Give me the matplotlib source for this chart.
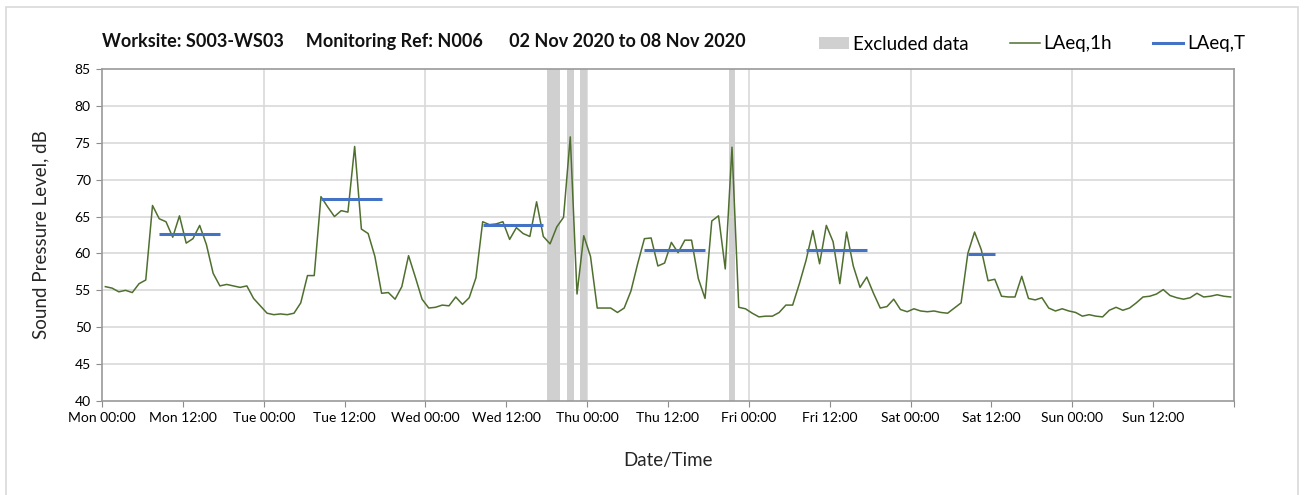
import matplotlib.pyplot as plt
import numpy as np
from matplotlib.patches import Patch, Rectangle
from matplotlib.lines import Line2D

# hourly LAeq,1h values, Mon 00:00 to Sun 23:00
laeq_1h = [
    55.5, 55.3, 54.8, 55.0, 54.7, 55.9, 56.4, 66.5, 64.7, 64.3, 62.2, 65.1,
    61.4, 62.0, 63.8, 61.2, 57.3, 55.6, 55.8, 55.6, 55.4, 55.6, 53.9, 52.9,
    51.9, 51.7, 51.8, 51.7, 51.9, 53.3, 57.0, 57.0, 67.7, 66.3, 65.0, 65.8,
    65.6, 74.5, 63.3, 62.7, 59.6, 54.6, 54.7, 53.8, 55.5, 59.7, 56.8, 53.8,
    52.6, 52.7, 53.0, 52.9, 54.1, 53.1, 54.0, 56.7, 64.3, 63.9, 64.0, 64.3,
    61.9, 63.5, 62.7, 62.3, 67.0, 62.3, 61.3, 63.6, 64.9, 75.8, 54.5, 62.4,
    59.6, 52.6, 52.6, 52.6, 52.0, 52.6, 54.9, 58.6, 62.0, 62.1, 58.3, 58.7,
    61.5, 60.1, 61.8, 61.8, 56.6, 53.9, 64.4, 65.1, 57.9, 74.4, 52.7, 52.5,
    51.9, 51.4, 51.5, 51.5, 52.0, 53.0, 53.0, 55.9, 59.1, 63.1, 58.6, 63.8,
    61.6, 55.9, 62.9, 58.3, 55.4, 56.8, 54.6, 52.6, 52.8, 53.8, 52.4, 52.1,
    52.5, 52.2, 52.1, 52.2, 52.0, 51.9, 52.6, 53.3, 60.0, 62.9, 60.5, 56.3,
    56.5, 54.2, 54.1, 54.1, 56.9, 53.9, 53.7, 54.0, 52.6, 52.2, 52.5, 52.2,
    52.0, 51.5, 51.7, 51.5, 51.4, 52.3, 52.7, 52.3, 52.6, 53.3, 54.1, 54.2,
    54.5, 55.1, 54.3, 54.0, 53.8, 54.0, 54.6, 54.1, 54.2, 54.4, 54.2, 54.1,
]

# LAeq,T periods (start hour, end hour, level)
period_start = [8, 32, 56, 80, 104, 128]
period_end = [18, 42, 66, 90, 114, 133]
period_level = [62.6, 67.4, 63.8, 60.4, 60.5, 59.9]

# excluded data hours (start, end)
excl_start = [66, 69, 71, 93]
excl_end = [68, 70, 72, 94]

tick_labels = ["Mon 00:00", "Mon 12:00", "Tue 00:00", "Tue 12:00", "Wed 00:00",
               "Wed 12:00", "Thu 00:00", "Thu 12:00", "Fri 00:00", "Fri 12:00",
               "Sat 00:00", "Sat 12:00", "Sun 00:00", "Sun 12:00", ""]

plt.rcParams['font.family'] = ['Lato', 'DejaVu Sans']

fig = plt.figure(figsize=(13.09, 4.95), dpi=100)
ax = fig.add_axes([0.0779, 0.1899, 0.8648, 0.6707])

# outer frame of the picture
fig.patches.append(Rectangle((6 / 1309, -0.05), 1292 / 1309, 1 - 7 / 495 + 0.05,
                             transform=fig.transFigure, fill=False,
                             edgecolor="#d9d9d9", linewidth=1.2))

hours = np.arange(len(laeq_1h)) + 0.5

for s, e in zip(excl_start, excl_end):
    ax.axvspan(s, e, color="#d0d0d0", linewidth=0, zorder=1)

ax.plot(hours, laeq_1h, color="#4f6f2f", linewidth=1.1, zorder=3)

for s, e, lv in zip(period_start, period_end, period_level):
    ax.plot([s + 0.5, e - 0.5], [lv, lv], color="#4472c4", linewidth=2.2,
            solid_capstyle="butt", zorder=4)

ax.set_xlim(0, 168)
ax.set_ylim(40, 85)
ax.set_xticks(np.arange(0, 169, 12))
ax.set_xticklabels(tick_labels, fontsize=10)
ax.set_yticks(np.arange(40, 86, 5))
ax.tick_params(axis="y", labelsize=10, length=4, color="#8c8c8c", pad=4)
ax.tick_params(axis="x", length=4, color="#8c8c8c", pad=4)

# gridlines: horizontal every 5 dB, vertical at midnight only
for y in range(45, 85, 5):
    ax.axhline(y, color="#d9d9d9", linewidth=1.2, zorder=0)
for x in range(24, 168, 24):
    ax.axvline(x, color="#d9d9d9", linewidth=1.2, zorder=0)

for sp in ax.spines.values():
    sp.set_color("#9a9a9a")
    sp.set_linewidth(1.2)

ax.set_ylabel("Sound Pressure Level, dB", fontsize=13.5, color="#262626", labelpad=18)
ax.set_xlabel("Date/Time", fontsize=13.5, color="#262626", labelpad=20)

fig.text(102 / 1309, 1 - 41 / 495,
         "Worksite: S003-WS03     Monitoring Ref: N006      02 Nov 2020 to 08 Nov 2020",
         fontsize=13, fontweight="bold", va="center", ha="left", color="#111111")

handles = [Patch(facecolor="#d0d0d0", edgecolor="none"),
           Line2D([], [], color="#4f6f2f", linewidth=1.1),
           Line2D([], [], color="#4472c4", linewidth=2.2)]
fig.legend(handles, ["Excluded data", "LAeq,1h", "LAeq,T"], loc="center right",
           bbox_to_anchor=(1262 / 1309, 1 - 44 / 495), ncol=3, frameon=False,
           fontsize=13.5, handlelength=1.6, handletextpad=0.2, columnspacing=2.2,
           handleheight=0.55)

fig.savefig("out.png", dpi=100)
